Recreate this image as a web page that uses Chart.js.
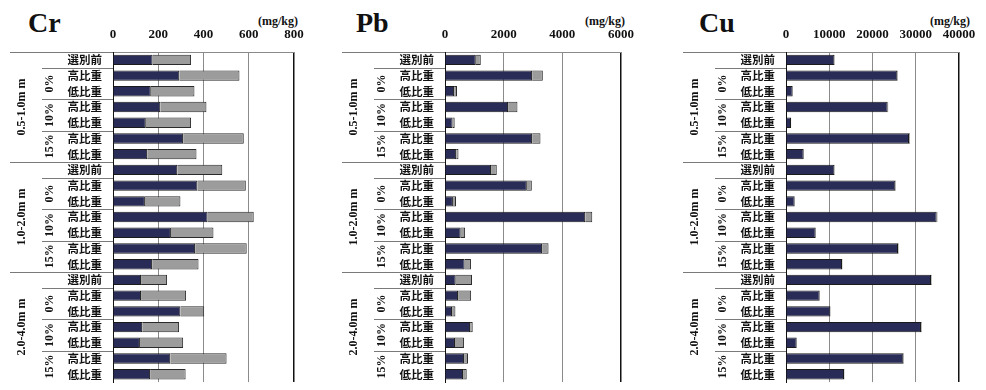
<!DOCTYPE html>
<html>
<head>
<meta charset="utf-8">
<script src="https://cdn.jsdelivr.net/npm/chart.js@4/dist/chart.umd.min.js"></script>
<style>
  html, body { margin: 0; padding: 0; background: #fff; overflow: hidden; }
  body { width: 986px; height: 390px; position: relative; }
  canvas { position: absolute; top: 0; }
  .title { position: absolute; font: bold 28px "Liberation Serif", serif; line-height: 28px; top: 9px; color: #111; }
  .unit { position: absolute; font: bold 12px "Liberation Serif", serif; line-height: 12px; top: 15px; color: #111; }
</style>
</head>
<body>
<div class="title" style="left:28px">Cr</div>
<div class="title" style="left:356px">Pb</div>
<div class="title" style="left:699px">Cu</div>
<div class="unit" style="left:258px">(mg/kg)</div>
<div class="unit" style="left:585px">(mg/kg)</div>
<div class="unit" style="left:930px">(mg/kg)</div>
<canvas id="cr" width="325" height="400" style="left:0px"></canvas>
<canvas id="pb" width="326" height="400" style="left:330px"></canvas>
<canvas id="cu" width="330" height="400" style="left:656px"></canvas>
<script>
// row labels, top to bottom
const rowLabels = [
  "選別前", "高比重", "低比重", "高比重", "低比重", "高比重", "低比重",
  "選別前", "高比重", "低比重", "高比重", "低比重", "高比重", "低比重",
  "選別前", "高比重", "低比重", "高比重", "低比重", "高比重", "低比重"
];
const sizeGroups = ["0.5-1.0m m", "1.0-2.0m m", "2.0-4.0m m"];
const ratioGroups = ["0%", "10%", "15%"];

// mg/kg, dark part and grey part of each stacked bar
const crDark = [175, 293, 167, 209, 145, 310, 151, 284, 373, 141, 418, 256, 363, 173, 124, 124, 298, 129, 119, 253, 164];
const crGray = [170, 266, 193, 204, 200, 268, 218, 199, 214, 157, 204, 188, 228, 205, 115, 199, 105, 163, 191, 249, 157];

const pbDark = [1050, 2970, 310, 2150, 260, 2970, 380, 1570, 2790, 270, 4780, 535, 3310, 670, 365, 445, 240, 855, 340, 650, 615];
const pbGray = [170, 365, 100, 320, 70, 285, 80, 195, 170, 105, 240, 150, 220, 215, 555, 445, 115, 90, 310, 135, 125];

const cuDark = [11180, 25740, 1540, 23510, 1160, 28440, 4090, 11180, 25280, 2000, 34840, 6860, 25900, 12950, 33530, 7780, 10250, 31210, 2470, 27130, 13410];
const cuGray = [120, 150, 60, 130, 50, 200, 80, 120, 140, 70, 180, 90, 150, 110, 160, 80, 90, 170, 60, 150, 110];

const crMax = 800, crStep = 200;
const pbMax = 6000, pbStep = 2000;
const cuMax = 40000, cuStep = 10000;

const NAVY = "#2a2c58";
const GREY = "#9c9c9c";

// group lines + rotated group labels on the left
const groupLabels = {
  id: "groupLabels",
  afterDraw(chart) {
    const ctx = chart.ctx;
    const y = chart.scales.y;
    const left = chart.chartArea.left;
    const center = (i) => y.getPixelForValue(i);
    const edge = (i) => i === 0 ? chart.chartArea.top : (center(i - 1) + center(i)) / 2;

    ctx.save();
    ctx.strokeStyle = "#7a7a7a";
    ctx.lineWidth = 1;
    for (let g = 0; g < 3; g++) {
      const base = g * 7;
      // outer line above size group
      ctx.beginPath();
      ctx.moveTo(left - 103, Math.round(edge(base)) + 0.5);
      ctx.lineTo(left, Math.round(edge(base)) + 0.5);
      ctx.stroke();
      // inner lines above each ratio group
      [1, 3, 5].forEach((k) => {
        const yy = Math.round(edge(base + k)) + 0.5;
        ctx.beginPath();
        ctx.moveTo(left - 71, yy);
        ctx.lineTo(left, yy);
        ctx.stroke();
      });
    }

    ctx.fillStyle = "#111";
    ctx.textAlign = "center";
    ctx.textBaseline = "middle";
    for (let g = 0; g < 3; g++) {
      const base = g * 7;
      ctx.font = "bold 12px 'Liberation Serif', serif";
      ctx.save();
      ctx.translate(left - 91, center(base + 3));
      ctx.rotate(-Math.PI / 2);
      ctx.fillText(sizeGroups[g], 0, 0);
      ctx.restore();
      ratioGroups.forEach((r, k) => {
        const yc = (center(base + 1 + k * 2) + center(base + 2 + k * 2)) / 2;
        ctx.save();
        ctx.translate(left - 63, yc);
        ctx.rotate(-Math.PI / 2);
        ctx.fillText(r, 0, 0);
        ctx.restore();
      });
    }
    ctx.restore();
  }
};

function makePanel(id, dark, gray, max, step, padLeft, padRight) {
  const ctx = document.getElementById(id).getContext("2d");
  return new Chart(ctx, {
    type: "bar",
    data: {
      labels: rowLabels,
      datasets: [
        {
          data: dark,
          backgroundColor: NAVY,
          borderColor: "#1a1a1a",
          borderWidth: 1,
          barPercentage: 0.66,
          categoryPercentage: 1,
        },
        {
          data: gray,
          backgroundColor: GREY,
          borderColor: "#2a2a2a",
          borderWidth: 1,
          barPercentage: 0.66,
          categoryPercentage: 1,
        },
      ],
    },
    options: {
      indexAxis: "y",
      responsive: false,
      animation: false,
      devicePixelRatio: 1,
      layout: { padding: { left: padLeft, right: padRight, top: 0, bottom: 7 } },
      plugins: { legend: { display: false }, tooltip: { enabled: false } },
      scales: {
        x: {
          type: "linear",
          position: "top",
          stacked: true,
          min: 0,
          max: max,
          ticks: {
            stepSize: step,
            padding: 10,
            color: "#111",
            callback: (v) => String(v),
            font: { family: "'Liberation Serif', serif", size: 13, weight: "bold" },
          },
          grid: {
            drawTicks: false,
            color: (c) => (c.tick && (c.tick.value === max || c.tick.value === 0) ? "#111" : "#8a8a8a"),
            lineWidth: (c) => (c.tick && c.tick.value === max ? 1.5 : 1),
          },
          border: { display: true, color: "#8a8a8a" },
          afterFit: (s) => { s.height = 52; },
        },
        y: {
          stacked: true,
          ticks: {
            padding: 11,
            color: "#111",
            autoSkip: false,
            font: { family: "'Noto Sans CJK JP', sans-serif", size: 11.5, weight: "bold" },
          },
          grid: { display: false, drawTicks: false },
          border: { display: true, color: "#111" },
          afterFit: (s) => { s.width = 105; },
        },
      },
    },
    plugins: [groupLabels],
  });
}

makePanel("cr", crDark, crGray, crMax, crStep, 8, 31);
makePanel("pb", pbDark, pbGray, pbMax, pbStep, 10, 35);
makePanel("cu", cuDark, cuGray, cuMax, cuStep, 25, 27);
</script>
</body>
</html>
